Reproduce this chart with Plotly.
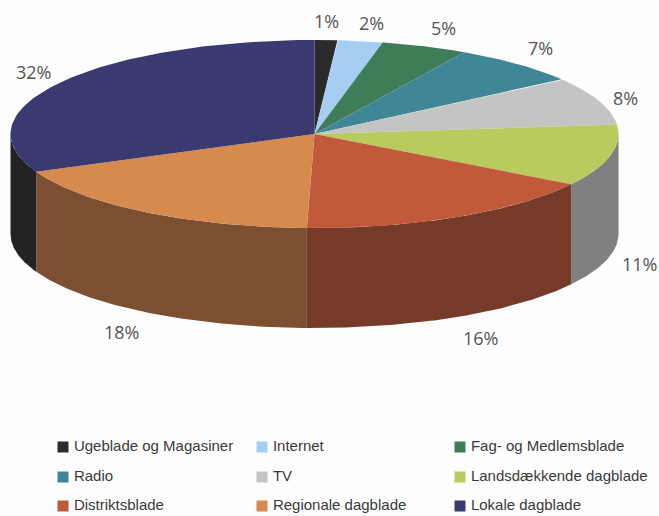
import numpy as np
import plotly.graph_objects as go

categories = ["Ugeblade og Magasiner", "Internet", "Fag- og Medlemsblade",
              "Radio", "TV", "Landsdækkende dagblade",
              "Distriktsblade", "Regionale dagblade", "Lokale dagblade"]
shares = [1.2, 2.4, 4.6, 6.9, 8.3, 10.6, 16.4, 18.0, 31.6]
top_colors = ["#2b2b2b", "#a6cdf2", "#3f7d58", "#3f8797", "#c4c4c4",
              "#b9ca5f", "#c05a3a", "#d68a4e", "#3b3a70"]
wall_colors = ["#222222", "#7f8fa0", "#2c5a3e", "#2c606c", "#808080",
               "#808080", "#763a29", "#7b4f2f", "#232326"]
# pixel nudges of the value labels away from the rim
label_dx = [1, 11, 19, 23, 27, 29, 23, -24, -26]
label_dy = [-19, -18, -18, -16, -3, 8, 21, 20, -11]

CX, CY, RX, RY, DEPTH = 314.5, 134, 304, 94, 100


def rim(t):
    return CX + RX * np.sin(t), CY - RY * np.cos(t)


fig = go.Figure()
cum = np.concatenate([[0], np.cumsum(shares)])
angles = cum / cum[-1] * 2 * np.pi

# side walls (only the front half of the disc is visible)
for i in range(len(shares)):
    a, b = max(angles[i], np.pi / 2), min(angles[i + 1], 3 * np.pi / 2)
    if b <= a:
        continue
    t = np.linspace(a, b, 80)
    x, y = rim(t)
    fig.add_trace(go.Scatter(
        x=np.concatenate([x, x[::-1]]),
        y=np.concatenate([y, y[::-1] + DEPTH]),
        mode="lines", fill="toself", fillcolor=wall_colors[i],
        line=dict(width=0), hoverinfo="skip", showlegend=False))

# top face
for i in range(len(shares)):
    t = np.linspace(angles[i], angles[i + 1], 80)
    x, y = rim(t)
    fig.add_trace(go.Scatter(
        x=np.concatenate([[CX], x, [CX]]),
        y=np.concatenate([[CY], y, [CY]]),
        mode="lines", fill="toself", fillcolor=top_colors[i],
        line=dict(width=0), name=categories[i], hoverinfo="name",
        showlegend=False))

# value labels
for i, v in enumerate(shares):
    mid = (angles[i] + angles[i + 1]) / 2
    x, y = rim(mid)
    if np.pi / 2 < mid < 3 * np.pi / 2:
        y += DEPTH
    fig.add_annotation(x=x, y=y, text=f"{round(v)}%", showarrow=False,
                       xshift=label_dx[i], yshift=-label_dy[i],
                       font=dict(family="Open Sans", size=18, color="#555555"))

# legend, three columns by three rows
col_x = [63, 262, 460]
row_y = [447, 477, 506]
for i, name in enumerate(categories):
    fig.add_trace(go.Scatter(
        x=[col_x[i % 3]], y=[row_y[i // 3]], mode="markers+text",
        marker=dict(symbol="square", size=11, color=top_colors[i]),
        text=["\u2009" + name], textposition="middle right",
        textfont=dict(family="Liberation Sans", size=15, color="#3a3a3a"),
        hoverinfo="skip", showlegend=False))

fig.update_layout(
    width=659, height=516, margin=dict(l=0, r=0, t=0, b=0),
    paper_bgcolor="#fdfdfd", plot_bgcolor="#fdfdfd", showlegend=False,
    xaxis=dict(range=[0, 659], visible=False, fixedrange=True),
    yaxis=dict(range=[516, 0], visible=False, fixedrange=True))

fig.write_html("out.html", config={"displayModeBar": False}, post_script=(
    "document.body.style.margin='0';"
    "document.documentElement.style.overflow='hidden';"))
